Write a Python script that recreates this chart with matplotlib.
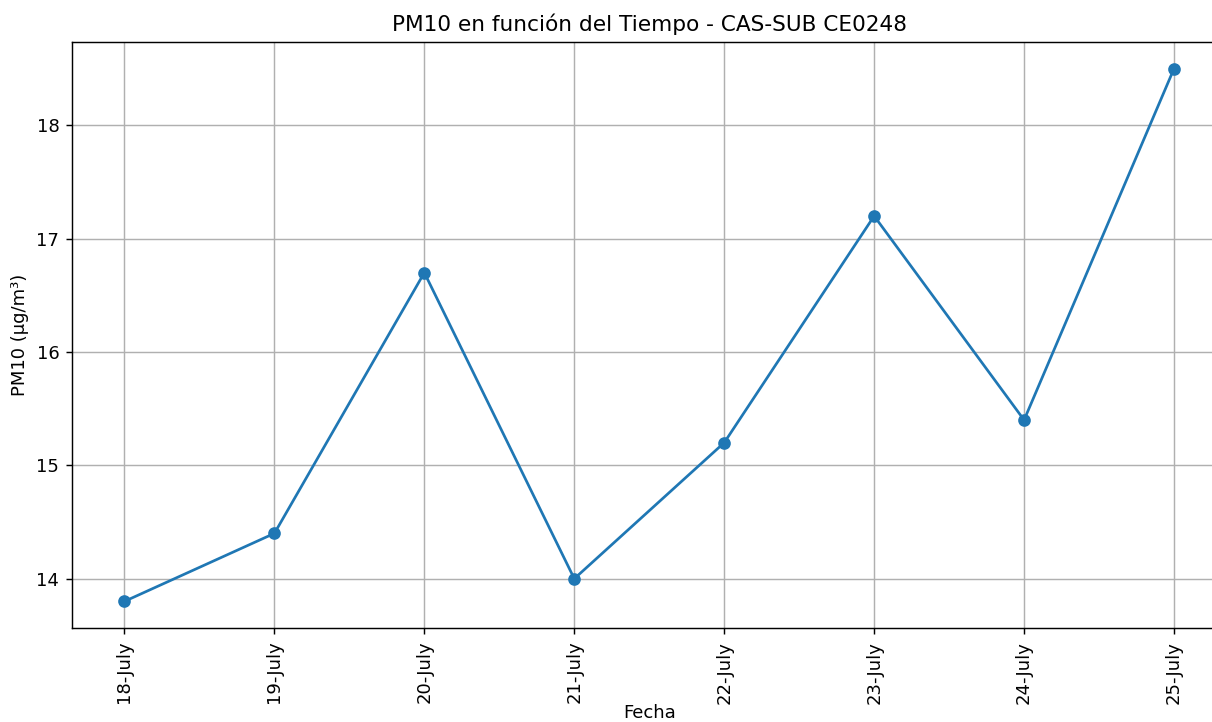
import matplotlib
matplotlib.use("Agg")
import matplotlib.pyplot as plt

fechas = ["18-July", "19-July", "20-July", "21-July", "22-July", "23-July", "24-July", "25-July"]
pm10 = [13.8, 14.4, 16.7, 14.0, 15.2, 17.2, 15.4, 18.5]

DPI = 130
fig = plt.figure(figsize=(1212 / DPI, 722 / DPI), dpi=DPI)
ax = fig.add_axes([72 / 1212, 1 - 628 / 722, (1226.5 - 72) / 1212, (628 - 42) / 722])
ax.plot(fechas, pm10, marker="o", linestyle="-", color="#1f77b4")
ax.set_title("PM10 en función del Tiempo - CAS-SUB CE0248")
ax.set_xlabel("Fecha", labelpad=0.5)
ax.set_ylabel("PM10 (µg/m³)")
ax.grid(True)
plt.setp(ax.get_xticklabels(), rotation=90)
fig.savefig("out.png", dpi=DPI)
